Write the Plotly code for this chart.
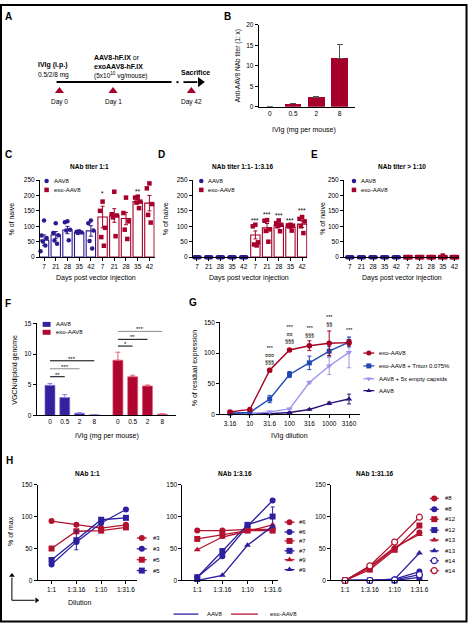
import plotly.graph_objects as go

W, H = 472, 627
FONT = "Liberation Sans, Arial, Helvetica, sans-serif"
NARROW = "Liberation Sans Narrow, Arial Narrow, Liberation Sans, Arial, sans-serif"

RED = "#a5002a"
BLUE = "#2b1b8f"
F_BLUE = "#35209e"
F_RED = "#b0052e"
G_RED = "#a50021"
G_TRITON = "#2249b3"
G_EMPTY = "#9c94ee"
G_AAV8 = "#2e1478"
H_RED = "#b3122e"
H_BLUE = "#2d1f9e"

# ---------------- data ----------------
# Panel B
b_ivig = ["0", "0.5", "2", "8"]
b_titer = [0.0, 0.8, 2.3, 11.8]
b_titer_sem = [0.0, 0.1, 0.2, 3.4]

# Panels C-E
days = ["7", "21", "28", "35", "42"]
c_aav8_mean = [55, 72, 88, 80, 85]
c_aav8_sem = [17, 11, 12, 2, 17]
c_aav8_pts = [[119, 70, 62, 51, 38, 19], [110, 78, 71, 54, 43], [116, 113, 89, 86, 55],
              [84, 82, 80, 78], [119, 110, 86, 52, 28]]
c_exo_mean = [130, 135, 125, 180, 175]
c_exo_sem = [35, 22, 20, 7, 25]
c_exo_pts = [[180, 150, 95, 65, 37], [212, 139, 135, 129, 68], [193, 143, 116, 89, 59],
             [196, 193, 180, 177, 159], [239, 223, 172, 137, 112]]
c_stars = ["*", "", "", "**", "**"]
c_star_y = [205, 0, 0, 212, 257]

d_aav8_mean = [0, 0, 0, 0, 0]
d_aav8_sem = [0, 0, 0, 0, 0]
d_aav8_pts = [[0, 0, 0, 0, 0]] * 5
d_exo_mean = [72, 95, 103, 97, 107]
d_exo_sem = [13, 14, 6, 3, 11]
d_exo_pts = [[105, 100, 48, 41, 38], [120, 118, 90, 85, 50], [119, 110, 105, 100, 84],
             [105, 103, 102, 100, 86], [130, 124, 116, 100, 78]]
d_stars = ["***", "***", "***", "***", "***"]
d_star_y = [119, 139, 135, 119, 150]

e_aav8_mean = [0, 0, 0, 0, 0]
e_aav8_sem = [0, 0, 0, 0, 0]
e_aav8_pts = [[0, 0, 0, 0, 0]] * 5
e_exo_mean = [0, 0, 0, 1, 0]
e_exo_sem = [0, 0, 0, 1, 0]
e_exo_pts = [[0, 0, 0, 0, 0], [0, 0, 0, 0, 0], [0, 0, 0, 0, 0], [5, 0, 0, 0, 0], [0, 0, 0, 0, 0]]

# Panel F
f_ivig = ["0", "0.5", "2", "8"]
f_aav8 = [4.9, 2.9, 0.35, 0.08]
f_aav8_sem = [0.3, 0.5, 0.08, 0.03]
f_exo = [9.0, 6.3, 4.8, 0.2]
f_exo_sem = [1.3, 0.25, 0.15, 0.05]
f_aav8_sig = [("**", 1, 6.3), ("***", 2, 7.6), ("***", 3, 8.9)]
f_exo_sig = [("*", 1, 11.3), ("**", 2, 12.4), ("***", 3, 13.7)]

# Panel G
g_dilution = ["3.16", "10", "31.6", "100", "316", "1000", "3160"]
g_exo = [4, 8, 72, 105, 112, 116, 117]
g_exo_sem = [2, 1, 3, 2, 8, 20, 5]
g_triton = [2, 3, 25, 65, 84, 103, 118]
g_triton_sem = [1, 1, 6, 5, 11, 8, 8]
g_empty = [4, 1, 4, 9, 52, 79, 101]
g_empty_sem = [1, 0, 1, 1, 2, 14, 25]
g_aav8 = [2, 1, 1, 3, 8, 18, 25]
g_aav8_sem = [0, 0, 0, 1, 1, 2, 8]
g_sig = ["", "", "***<br>¤¤¤<br>§§§", "***<br>¤¤<br>§§§", "***<br>§§§", "***<br>§§", "***"]
g_sig_y = [0, 0, 77, 111, 122, 140, 130]

# Panel H
h_dil = ["1:1", "1:3.16", "1:10", "1:31.6"]
h1_exo3 = [93, 87, 82, 87]
h1_aav3 = [25, 60, 90, 111]
h1_exo5 = [50, 77, 78, 83]
h1_aav5 = [32, 63, 95, 98]
h1_aav5_sem = [0, 15, 0, 0]
h2_exo6 = [78, 78, 80, 80]
h2_aav6 = [5, 38, 85, 125]
h2_exo7 = [65, 72, 78, 78]
h2_exo7_sem = [0, 6, 0, 0]
h2_aav7 = [5, 46, 87, 100]
h2_aav7_sem = [0, 0, 0, 15]
h2_exo9 = [48, 68, 77, 87]
h2_aav9 = [0, 8, 55, 85]
h3_exo8 = [0, 20, 50, 75]
h3_aav8 = [0, 0, 2, 14]
h3_exo12 = [0, 17, 48, 86]
h3_aav12 = [0, 0, 0, 5]
h3_exo13 = [0, 22, 52, 72]
h3_aav13 = [0, 0, 2, 43]
h3_aav14 = [0, 0, 1, 9]
h3_exo14 = [0, 23, 60, 99]

# ---------------- helpers ----------------
traces, annots, shapes = [], [], []
layout_axes = {}


def fx(x):
    return x / W


def fy(y):
    return 1 - y / H


def label(x, y, s, size=6.5, bold=False, xanchor="center", yanchor="middle", angle=0,
          family=FONT, color="black"):
    annots.append(dict(x=fx(x), y=fy(y), xref="paper", yref="paper",
                       text=(f"<b>{s}</b>" if bold else s), showarrow=False,
                       xanchor=xanchor, yanchor=yanchor, textangle=angle,
                       font=dict(size=size, family=family, color=color)))


def axis_pair(n, x0, x1, y0, y1, xrange, yrange, xticks=None, xtext=None, yticks=None,
              xtickmarks="outside"):
    xs = "xaxis" if n == 1 else f"xaxis{n}"
    ys = "yaxis" if n == 1 else f"yaxis{n}"
    common = dict(showline=True, linecolor="black", linewidth=1, showgrid=False,
                  zeroline=False, tickcolor="black", tickwidth=1, ticklen=3,
                  tickfont=dict(size=6.5, family=FONT, color="black"))
    layout_axes[xs] = dict(common, domain=[fx(x0), fx(x1)], range=xrange,
                           anchor=f"y{'' if n == 1 else n}", tickmode="array",
                           tickvals=xticks, ticktext=xtext, ticks=xtickmarks)
    layout_axes[ys] = dict(common, domain=[fy(y1), fy(y0)], range=yrange,
                           anchor=f"x{'' if n == 1 else n}", tickmode="array",
                           tickvals=yticks, ticks="outside")


def ax(n):
    return ("x" if n == 1 else f"x{n}"), ("y" if n == 1 else f"y{n}")


OV = 10  # overlay axis for decorations (pixel coords)


def ov_marker(x, y, symbol, color, size, seg=None, lw=1.3, open_=False):
    xa, ya = ax(OV)
    if seg:
        traces.append(go.Scatter(x=[x - seg, x + seg], y=[y, y], mode="lines",
                                 line=dict(color=color, width=lw), xaxis=xa, yaxis=ya,
                                 showlegend=False, hoverinfo="skip"))
    if symbol:
        traces.append(go.Scatter(x=[x], y=[y], mode="markers", xaxis=xa, yaxis=ya,
                                 marker=dict(symbol=symbol, color=("white" if open_ else color),
                                             size=size,
                                             line=dict(color=color, width=(1.2 if open_ else 0))),
                                 showlegend=False, hoverinfo="skip"))


def pline(x0, y0, x1, y1, width=1, color="black"):
    shapes.append(dict(type="line", xref="paper", yref="paper", x0=fx(x0), x1=fx(x1),
                       y0=fy(y0), y1=fy(y1), line=dict(color=color, width=width)))


JIT = [0.0, -0.22, 0.22, -0.11, 0.11, -0.3]

# ---------------- Panel A ----------------
label(9, 13, "A", size=10, bold=True)
label(36, 62, "IVIg (i.p.)", size=7, bold=True, xanchor="left")
label(36, 72, "0.5/2/8 mg", size=6.5, xanchor="left")
label(93, 54, "<b>AAV8-hF.IX</b> or", size=7, xanchor="left")
label(93, 63.5, "exoAAV8-hF.IX", size=7, bold=True, xanchor="left")
label(93, 72.5, "(5x10<sup>10</sup> vg/mouse)", size=6.5, xanchor="left")
label(181, 69, "Sacrifice", size=7, bold=True, xanchor="left")
for xx, t in [(60, "Day 0"), (114, "Day 1"), (193, "Day 42")]:
    label(xx, 99, t, size=6.5)
    ov_marker(xx, 88, "triangle-up", "#a5002a", 8)
pline(57, 79, 173, 79, width=2)
pline(178, 79, 180, 79, width=2)
pline(185, 79, 199, 79, width=1.8)
ov_marker(202, 79, "triangle-right", "black", 9)

# ---------------- Panel B ----------------
label(229, 13, "B", size=10, bold=True)
axis_pair(1, 261, 358, 21, 104, [-0.47, 3.66], [0, 20], xticks=[0, 1, 2, 3], xtext=b_ivig,
          yticks=[0, 5, 10, 15, 20], xtickmarks="")
traces.append(go.Bar(x=[0, 1, 2, 3], y=b_titer, width=0.72, marker=dict(color=RED, line=dict(width=0)),
                     error_y=dict(type="data", array=b_titer_sem, arrayminus=[0, 0, 0, 0],
                                  symmetric=False, color="#555555", thickness=1, width=3),
                     xaxis="x", yaxis="y", showlegend=False))
label(240, 62, "Anti-AAV8 NAb titer (1: x)", size=6.5, angle=-90, family=NARROW)
label(307, 127, "IVIg (mg per mouse)", size=7, family=NARROW)


# ---------------- Panels C, D, E ----------------
def dot_panel(n, x0, x1, xr, am, asem, apts, em, esem, epts, stars, star_y):
    axis_pair(n, x0, x1, 178, 256, xr, [0, 250], xticks=list(range(10)), xtext=days * 2,
              yticks=[0, 50, 100, 150, 200, 250])
    xa, ya = ax(n)
    for g, (means, sems, pts, col, sym) in enumerate(
            [(am, asem, apts, BLUE, "circle"), (em, esem, epts, RED, "square")]):
        xs = [i + 5 * g for i in range(5)]
        traces.append(go.Bar(x=xs, y=means, width=0.8,
                             marker=dict(color="white", line=dict(color=col, width=1.1)),
                             error_y=dict(type="data", array=sems, color=col, thickness=1, width=2),
                             xaxis=xa, yaxis=ya, showlegend=False))
        px_, py_ = [], []
        for i, p in enumerate(pts):
            for k, v in enumerate(p):
                px_.append(xs[i] + JIT[k])
                py_.append(v)
        traces.append(go.Scatter(x=px_, y=py_, mode="markers", cliponaxis=False,
                                 marker=dict(symbol=sym, color=col, size=4.5, line=dict(width=0)),
                                 xaxis=xa, yaxis=ya, showlegend=False))
    for i, (s, yv) in enumerate(zip(stars, star_y)):
        if s:
            annots.append(dict(x=5 + i, y=yv, xref=xa, yref=ya, text=s, showarrow=False,
                               font=dict(size=6.5, family=FONT, color="black")))


label(9, 152, "C", size=10, bold=True)
dot_panel(2, 40.3, 156, [-0.35, 9.45], c_aav8_mean, c_aav8_sem, c_aav8_pts,
          c_exo_mean, c_exo_sem, c_exo_pts, c_stars, c_star_y)
label(90, 164, "NAb titer 1:1", size=6.5, bold=True)
label(12, 217, "% of naive", size=7, angle=-90, family=NARROW)
label(97, 277, "Days post vector injection", size=7, family=NARROW)
ov_marker(47, 179, "circle", BLUE, 4.5)
ov_marker(47, 188, "square", RED, 4.5)
label(52, 179, "AAV8", size=6, xanchor="left")
label(52, 188, "exo-AAV8", size=6, xanchor="left")

label(163, 152, "D", size=10, bold=True)
dot_panel(3, 194.5, 310, [-0.35, 9.45], d_aav8_mean, d_aav8_sem, d_aav8_pts,
          d_exo_mean, d_exo_sem, d_exo_pts, d_stars, d_star_y)
label(245, 164, "NAb titer 1:1- 1:3.16", size=6.5, bold=True)
label(167, 217, "% of naive", size=7, angle=-90, family=NARROW)
label(251, 277, "Days post vector injection", size=7, family=NARROW)
ov_marker(203, 179, "circle", BLUE, 4.5)
ov_marker(203, 188, "square", RED, 4.5)
label(208, 179, "AAV8", size=6, xanchor="left")
label(208, 188, "exo-AAV8", size=6, xanchor="left")

label(317, 152, "E", size=10, bold=True)
dot_panel(4, 347, 463, [-0.49, 9.4], e_aav8_mean, e_aav8_sem, e_aav8_pts,
          e_exo_mean, e_exo_sem, e_exo_pts, ["", "", "", "", ""], [0] * 5)
label(405, 164, "NAb titer > 1:10", size=6.5, bold=True)
label(325, 217, "% of naive", size=7, angle=-90, family=NARROW)
label(405, 277, "Days post vector injection", size=7, family=NARROW)
ov_marker(357, 179, "circle", BLUE, 4.5)
ov_marker(357, 188, "square", RED, 4.5)
label(362, 179, "AAV8", size=6, xanchor="left")
label(362, 188, "exo-AAV8", size=6, xanchor="left")

# ---------------- Panel F ----------------
label(8, 303, "F", size=10, bold=True)
f_pos_a = [0, 1, 2, 3]
f_pos_e = [4.6, 5.6, 6.6, 7.6]
axis_pair(5, 37, 177, 323, 416, [-0.9, 8.5], [0, 15], xticks=f_pos_a + f_pos_e,
          xtext=f_ivig * 2, yticks=[0, 5, 10, 15], xtickmarks="")
for pos, vals, sems, col, ecol in [(f_pos_a, f_aav8, f_aav8_sem, F_BLUE, "#8f80e0"),
                                   (f_pos_e, f_exo, f_exo_sem, F_RED, "#e0607a")]:
    traces.append(go.Bar(x=pos, y=vals, width=0.68,
                         marker=dict(color=col, line=dict(color=ecol, width=0.6)),
                         error_y=dict(type="data", array=sems, arrayminus=[0] * 4, symmetric=False,
                                      color=ecol, thickness=1, width=2.5),
                         xaxis="x5", yaxis="y5", showlegend=False))
for pos, sig, greys in [(f_pos_a, f_aav8_sig, [False, True, False]),
                        (f_pos_e, f_exo_sig, [False, False, True])]:
    for (s, j, yv), gr in zip(sig, greys):
        shapes.append(dict(type="line", xref="x5", yref="y5", x0=pos[0], x1=pos[j], y0=yv, y1=yv,
                           line=dict(color=("#8c8c8c" if gr else "black"), width=1)))
        annots.append(dict(x=(pos[0] + pos[j]) / 2, y=yv, xref="x5", yref="y5", text=s,
                           showarrow=False, yanchor="bottom", yshift=-3,
                           font=dict(size=6, family=FONT, color="black")))
label(15, 370, "VGCN/diploid genome", size=7, angle=-90, family=NARROW)
label(108, 437, "IVIg (mg per mouse)", size=7, family=NARROW)
for yy, col, t in [(324, F_BLUE, "AAV8"), (332, F_RED, "exo-AAV8")]:
    shapes.append(dict(type="rect", xref="paper", yref="paper", x0=fx(43), x1=fx(51),
                       y0=fy(yy + 2.5), y1=fy(yy - 2.5), fillcolor=col, line=dict(width=0)))
    label(54, yy, t, size=6, xanchor="left")

# ---------------- Panel G ----------------
label(195, 302, "G", size=10, bold=True)
axis_pair(6, 222, 363, 322, 415, [-0.5, 6.55], [0, 150], xticks=list(range(7)),
          xtext=g_dilution, yticks=[0, 50, 100, 150])
g_series = [(g_aav8, g_aav8_sem, G_AAV8, "triangle-up", 5.5),
            (g_empty, g_empty_sem, G_EMPTY, "triangle-down", 5.5),
            (g_triton, g_triton_sem, G_TRITON, "square", 5),
            (g_exo, g_exo_sem, G_RED, "circle", 5.5)]
for vals, sems, col, sym, sz in g_series:
    traces.append(go.Scatter(x=list(range(7)), y=vals, mode="lines+markers", cliponaxis=False,
                             line=dict(color=col, width=1.4),
                             marker=dict(symbol=sym, color=col, size=sz, line=dict(width=0)),
                             error_y=dict(type="data", array=sems, color=col, thickness=1, width=2),
                             xaxis="x6", yaxis="y6", showlegend=False))
for i, (s, yv) in enumerate(zip(g_sig, g_sig_y)):
    if s:
        annots.append(dict(x=i, y=yv, xref="x6", yref="y6", text=s, showarrow=False,
                           yanchor="bottom", font=dict(size=5.5, family=FONT, color="black")))
label(197, 368, "% of residual expression", size=7, angle=-90, family=NARROW)
label(292, 437, "IVIg dilution", size=7, family=NARROW)
for yy, col, sym, t in [(353, G_RED, "circle", "exo-AAV8"),
                        (366, G_TRITON, "square", "exo-AAV8 + Triton 0.075%"),
                        (379, G_EMPTY, "triangle-down", "AAV8 + 5x empty capsids"),
                        (391, G_AAV8, "triangle-up", "AAV8")]:
    ov_marker(372, yy, sym, col, 5, seg=5.5)
    label(380, yy, t, size=6, xanchor="left")

# ---------------- Panel H ----------------
label(10, 462, "H", size=10, bold=True)


def h_panel(n, x0, x1, xr, series, title, tx):
    axis_pair(n, x0, x1, 486, 583, xr, [0, 150], xticks=[0, 1, 2, 3], xtext=h_dil,
              yticks=[0, 50, 100, 150])
    xa, ya = ax(n)
    for vals, sems, col, sym, open_ in series:
        traces.append(go.Scatter(x=[0, 1, 2, 3], y=vals, mode="lines+markers", cliponaxis=False,
                                 line=dict(color=col, width=1.3),
                                 marker=dict(symbol=sym, size=6, color=("white" if open_ else col),
                                             line=dict(color=col, width=(1.2 if open_ else 0))),
                                 error_y=(dict(type="data", array=sems, color=col, thickness=1, width=2)
                                          if sems else None),
                                 xaxis=xa, yaxis=ya, showlegend=False))
    label(tx, 475, title, size=6.5, bold=True)


S_C, S_S, S_T = "circle", "square", "triangle-up"
h1_series = [(h1_exo3, None, H_RED, S_C, False), (h1_aav3, None, H_BLUE, S_C, False),
             (h1_exo5, None, H_RED, S_S, False), (h1_aav5, h1_aav5_sem, H_BLUE, S_S, False)]
h_panel(7, 38, 138, [-0.56, 3.44], h1_series, "NAb 1:1", 88)
for yy, (vals, sems, col, sym, op), t in zip([540, 551, 562, 573], h1_series, ["#3", "#3", "#5", "#5"]):
    ov_marker(143, yy, sym, col, 6, seg=5, open_=op)
    label(152, yy, t, size=6, xanchor="left")

h2_series = [(h2_exo6, None, H_RED, S_C, False), (h2_aav6, None, H_BLUE, S_C, False),
             (h2_exo7, h2_exo7_sem, H_RED, S_S, False), (h2_aav7, h2_aav7_sem, H_BLUE, S_S, False),
             (h2_exo9, None, H_RED, S_T, False), (h2_aav9, None, H_BLUE, S_T, False)]
h_panel(8, 184, 280, [-0.59, 3.2], h2_series, "NAb 1:3.16", 237)
for yy, (vals, sems, col, sym, op), t in zip([524, 534, 543, 553, 562, 572], h2_series,
                                             ["#6", "#6", "#7", "#7", "#9", "#9"]):
    ov_marker(292, yy, sym, col, 6, seg=5, open_=op)
    label(300, yy, t, size=6, xanchor="left")

h3_series = [(h3_exo8, None, H_RED, S_C, False), (h3_aav8, None, H_BLUE, S_C, False),
             (h3_exo12, None, H_RED, S_S, False), (h3_aav12, None, H_BLUE, S_S, False),
             (h3_exo13, None, H_RED, S_T, False), (h3_aav13, None, H_BLUE, S_T, False),
             (h3_aav14, None, H_BLUE, S_C, True), (h3_exo14, None, H_RED, S_C, True)]
h_panel(9, 334, 432, [-0.56, 3.36], h3_series, "NAb 1:31.16", 378)
for yy, (vals, sems, col, sym, op), t in zip([500, 511, 521, 532, 542, 553, 563, 573], h3_series,
                                             ["#8", "#8", "#12", "#12", "#13", "#13", "#14", "#14"]):
    ov_marker(438, yy, sym, col, 6, seg=4.5, open_=op)
    label(447, yy, t, size=6, xanchor="left")

label(10, 533, "% of max", size=7, angle=-90, family=NARROW)
label(80, 605, "Dilution", size=7, family=NARROW)
pline(12, 603, 12, 580, width=1)
ov_marker(12, 578, "triangle-up", "black", 5)
pline(12, 603, 35, 603, width=1)
ov_marker(37, 603, "triangle-right", "black", 5)

# bottom legend
ov_marker(187.5, 617, None, H_BLUE, 0, seg=12.5)
label(207, 617, "AAV8", size=6, xanchor="left")
ov_marker(246.5, 617, None, H_RED, 0, seg=13.5)
label(270, 617, "exo-AAV8", size=6, xanchor="left")

# overlay axes (pixel coordinates for decorations)
layout_axes["xaxis10"] = dict(domain=[0, 1], range=[0, W], visible=False, anchor="y10",
                              fixedrange=True)
layout_axes["yaxis10"] = dict(domain=[0, 1], range=[H, 0], visible=False, anchor="x10",
                              fixedrange=True)

# outer frame
shapes.append(dict(type="rect", xref="paper", yref="paper", x0=fx(1), x1=fx(470.5),
                   y0=fy(624.5), y1=fy(1), line=dict(color="black", width=2)))

fig = go.Figure(data=traces)
fig.update_layout(width=W, height=H, margin=dict(l=0, r=0, t=0, b=0), autosize=False,
                  paper_bgcolor="white", plot_bgcolor="rgba(0,0,0,0)",
                  font=dict(family=FONT, size=6.5, color="black"),
                  showlegend=False, annotations=annots, shapes=shapes, bargap=0,
                  **layout_axes)
fig.write_html("out.html", config={"displayModeBar": False, "staticPlot": True},
               post_script="document.body.style.margin='0';document.body.style.overflow='hidden';")
